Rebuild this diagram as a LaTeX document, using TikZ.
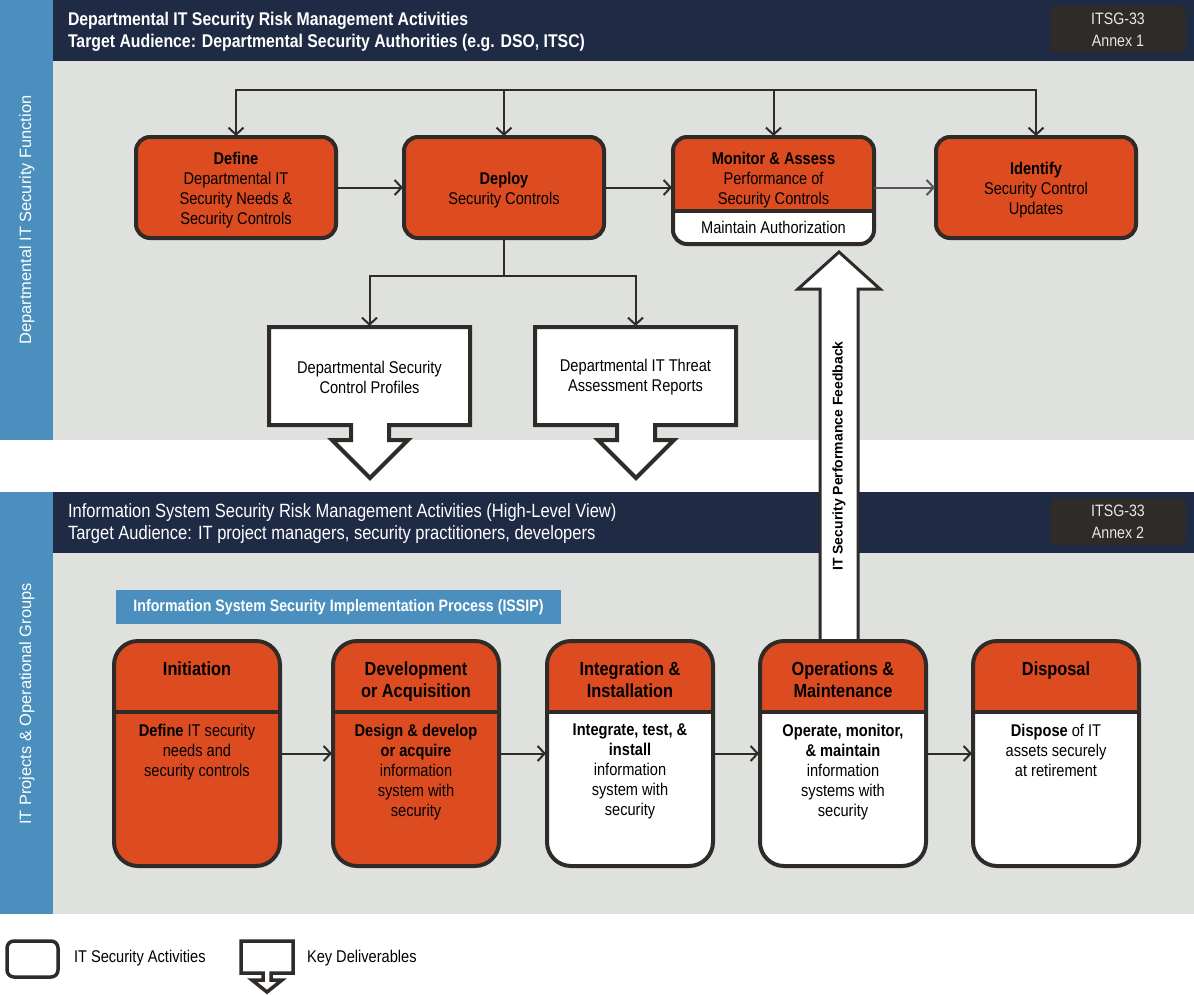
\documentclass[tikz,border=0pt]{standalone}
\usepackage{fontspec}
\setmainfont{Liberation Sans}[FakeStretch=0.86]
\newfontfamily\arialfont{Liberation Sans}
\usetikzlibrary{arrows.meta,calc}
\definecolor{orng}{HTML}{DD4B21}
\definecolor{bord}{HTML}{2E2B29}
\definecolor{panel}{HTML}{DFE1DF}
\definecolor{navy}{HTML}{1F2A45}
\definecolor{stripblue}{HTML}{4A8FBE}
\definecolor{badgec}{HTML}{2E2B29}
\definecolor{lightgray}{HTML}{E8E8E8}
\definecolor{graylink}{HTML}{555555}
\tikzset{
  every node/.style={inner sep=0pt, outer sep=0pt},
  txt/.style={font=\fontsize{17}{20}\selectfont, align=center, text=black},
  ttl/.style={font=\bfseries\fontsize{19}{22}\selectfont, align=center, text=black},
  hdr/.style={align=left, text=white},
  badge/.style={fill=badgec, rounded corners=6pt, minimum width=136pt, minimum height=47pt,
    text=lightgray, font=\fontsize{16.5}{22}\selectfont, align=center},
  actbox/.style={draw=bord, line width=4pt, fill=orng, rounded corners=14pt,
    minimum width=200pt, minimum height=101pt},
  phaseframe/.style={draw=bord, line width=4pt, rounded corners=24pt, minimum height=225pt},
  bline/.style={draw=bord, line width=4pt},
  deliv/.style={draw=bord, line width=4pt, fill=white, line join=miter},
  conn/.style={draw=bord, line width=2pt},
  arr/.style={conn, shorten >=1pt, -{Straight Barb[length=7pt, width=15pt, line width=2pt]}},
  sidetxt/.style={rotate=90, text=white, font={\arialfont\fontsize{16.4}{18}\selectfont}},
}
\newcommand{\phasebox}[6]{%
  \begin{scope}
    \clip[rounded corners=24pt] (#2,641) rectangle (#3,866);
    \fill[#4] (#2,641) rectangle (#3,866);
    \fill[orng] (#2,641) rectangle (#3,712);
  \end{scope}
  \draw[bline] (#2,712) -- (#3,712);
  \node[phaseframe, minimum width={#3-#2}] (#1) at ({(#2+#3)/2},753.5) {};
  \node[ttl, anchor=north] (#1-t) at ({(#2+#3)/2},662) {#5};
  \node[txt, anchor=north] (#1-b) at ({(#2+#3)/2},724) {#6};
}
\begin{document}
\begin{tikzpicture}[x=1pt, y=-1pt]
\useasboundingbox (0,0) rectangle (1194,994);
\fill[white] (0,0) rectangle (1194,994);
% ---------- top section background
\fill[stripblue] (0,0) rectangle (53,440);
\fill[navy] (53,0) rectangle (1194,61);
\fill[panel] (53,61) rectangle (1194,440);
% ---------- bottom section background
\fill[stripblue] (0,492) rectangle (53,914);
\fill[navy] (53,492) rectangle (1194,553);
\fill[panel] (53,553) rectangle (1194,914);

% side labels
\node[sidetxt] (s1) at (27,220) {Departmental IT Security Function};
\node[sidetxt] (s2) at (27,704) {IT Projects \& Operational Groups};

% headers
\node[hdr, anchor=west, font=\bfseries\fontsize{18.4}{22}\selectfont] (t1) at (68,32) {Departmental IT Security Risk Management Activities\\Target Audience: Departmental Security Authorities (e.g. DSO, ITSC)};
\node[badge] (b1) at (1118,29.5) {ITSG-33\\Annex 1};
\node[hdr, anchor=west, font=\fontsize{19.2}{22}\selectfont] (t2) at (68,524) {Information System Security Risk Management Activities (High-Level View)\\Target Audience: IT project managers, security practitioners, developers};
\node[badge] (b2) at (1118,521.5) {ITSG-33\\Annex 2};

% ---------- top activity boxes
\node[actbox] (def) at (236,187.5) {};
\node[txt] (defL) at (236,190.5) {\textbf{Define}\\Departmental IT\\Security Needs \&\\Security Controls};
\node[actbox] (dep) at (504,187.5) {};
\node[txt] (depL) at (504,190.5) {\textbf{Deploy}\\Security Controls};
\node[actbox] (idf) at (1036,187.5) {};
\node[txt] (idfL) at (1036,190.5) {\textbf{Identify}\\Security Control\\Updates};
\node[actbox, draw=none, minimum width=201pt, minimum height=107pt] (mon) at (773.5,190.5) {};
\begin{scope}
  \clip[rounded corners=14pt] (mon.north west) rectangle (mon.south east);
  \fill[white] (673,211) rectangle (874,244);
\end{scope}
\draw[bline] (673,211) -- (874,211);
\draw[bline, rounded corners=14pt] (mon.north west) rectangle (mon.south east);
\node[txt] (monT) at (773.5,180) {\textbf{Monitor \& Assess}\\Performance of\\Security Controls};
\node[txt] (maint) at (773.5,227) {Maintain Authorization};

% bus line
\coordinate (busL) at (236,90);
\coordinate (busR) at (1036,90);
\draw[conn, line cap=rect] (def.north |- busL) -- (idf.north |- busR);
\draw[arr] (def.north |- busL) -- (def.north);
\draw[arr] (dep.north |- busL) -- (dep.north);
\draw[arr] (mon.north |- busL) -- (mon.north);
\draw[arr] (idf.north |- busR) -- (idf.north);

% horizontal links
\draw[arr] (def.east) -- (dep.west);
\draw[arr] (dep.east) -- (dep.east -| mon.west);
\draw[arr, draw=graylink] (mon.east |- idf.west) -- (idf.west);

% ---------- deliverables
\draw[deliv] (269,327) -- (470,327) -- (470,425) -- (389,425) -- (389,440) -- (408,440) -- (370,478) -- (332,440) -- (351,440) -- (351,425) -- (269,425) -- cycle;
\draw[deliv] (535,327) -- (736,327) -- (736,425) -- (655,425) -- (655,440) -- (674,440) -- (636,478) -- (598,440) -- (617,440) -- (617,425) -- (535,425) -- cycle;
\node[txt, minimum width=201pt, minimum height=98pt] (prof) at (369.5,377) {Departmental Security\\Control Profiles};
\node[txt, minimum width=201pt, minimum height=98pt] (thr) at (635.5,377) {Departmental IT Threat\\Assessment Reports};
\coordinate (br) at (504,276);
\draw[conn] (dep.south) -- (br);
\draw[arr] (br) -| ($(prof.north)+(0,-1)$);
\draw[arr] (br) -| ($(thr.north)+(0,-1)$);

% ---------- feedback arrow
\draw[bord, line width=3pt, fill=white, line join=miter] (820,641) -- (820,289) -- (798,289) -- (839,252) -- (880,289) -- (858,289) -- (858,641);
\node[rotate=90, font={\arialfont\bfseries\fontsize{14}{16}\selectfont}] (fb) at (839,456) {IT Security Performance Feedback};

% ---------- ISSIP label
\node[fill=stripblue, minimum width=445pt, minimum height=34pt, text=white, font=\bfseries\fontsize{16.5}{18}\selectfont] (issip) at (338.5,607) {Information System Security Implementation Process (ISSIP)};

% ---------- phase boxes
\phasebox{ini}{114}{280}{orng}{Initiation}{\textbf{Define} IT security\\needs and\\security controls}
\phasebox{dev}{333}{499}{orng}{Development\\or Acquisition}{\textbf{Design \& develop}\\\textbf{or acquire}\\information\\system with\\security}
\phasebox{int}{547}{713}{white}{Integration \&\\Installation}{\textbf{Integrate, test, \&}\\\textbf{install}\\information\\system with\\security}
\phasebox{ops}{760}{926}{white}{Operations \&\\Maintenance}{\textbf{Operate, monitor,}\\\textbf{\& maintain}\\information\\systems with\\security}
\phasebox{dis}{973}{1139}{white}{Disposal}{\textbf{Dispose} of IT\\assets securely\\at retirement}
\draw[arr] (ini.east) -- (dev.west);
\draw[arr] (dev.east) -- (int.west);
\draw[arr] (int.east) -- (ops.west);
\draw[arr] (ops.east) -- (dis.west);

% ---------- legend
\node[draw=bord, line width=3.5pt, rounded corners=7pt, minimum width=51pt, minimum height=36pt] (lg1) at (32.5,959) {};
\node[txt, anchor=west] (lg1t) at (74,958) {IT Security Activities};
\draw[deliv, line width=3.5pt] (241,941) -- (293,941) -- (293,973) -- (271,973) -- (271,980) -- (282,980) -- (267,992) -- (252,980) -- (263,980) -- (263,973) -- (241,973) -- cycle;
\node[minimum width=52pt, minimum height=32pt] (lg2) at (267,957) {};
\node[txt, anchor=west] (lg2t) at (307,958) {Key Deliverables};
\end{tikzpicture}
\end{document}
